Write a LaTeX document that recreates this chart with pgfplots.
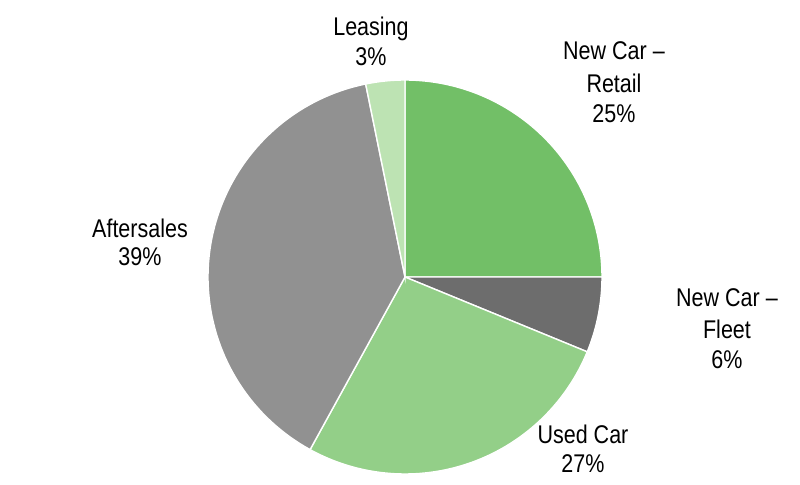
\documentclass[border=0pt]{standalone}
\usepackage{fontspec}
\setmainfont{Liberation Sans}[FakeStretch=0.84]
\usepackage{pgfplots}
\pgfplotsset{compat=1.18}

\definecolor{cRetail}{HTML}{72BF67}
\definecolor{cFleet}{HTML}{6D6D6D}
\definecolor{cUsed}{HTML}{93CF88}
\definecolor{cAfter}{HTML}{919191}
\definecolor{cLease}{HTML}{BDE3B3}

\tikzset{lbl/.style={font=\fontsize{12.8}{15}\selectfont, anchor=base, inner sep=0pt}}

% share in percent, cumulative start/end (clockwise from 12 o'clock)
% Retail 25.0, Fleet 6.2, Used 26.8, Aftersales 38.8, Leasing 3.2
\newcommand{\slice}[3]{%
  \pgfmathsetmacro{\angA}{90-3.6*#2}%
  \pgfmathsetmacro{\angB}{90-3.6*#3}%
  \addplot[draw=white, line width=0.7pt, fill=#1, domain=\angB:\angA, samples=80]
    ({405+197*cos(x)},{207+197*sin(x)}) -- (axis cs:405,207) -- cycle;
}

\begin{document}
\begin{tikzpicture}
\begin{axis}[
  scale only axis, width=400pt, height=242pt,
  xmin=0, xmax=800, ymin=0, ymax=484,
  hide axis, clip=false,
]
\slice{cRetail}{0}{25.0}
\slice{cFleet}{25.0}{31.2}
\slice{cUsed}{31.2}{58.0}
\slice{cAfter}{58.0}{96.8}
\slice{cLease}{96.8}{100}

\node[lbl] at (axis cs:371,449) {Leasing};
\node[lbl] at (axis cs:371,419) {3\%};
\node[lbl] at (axis cs:614,424) {New Car --};
\node[lbl] at (axis cs:614,392) {Retail};
\node[lbl] at (axis cs:614,362) {25\%};
\node[lbl] at (axis cs:727,177) {New Car --};
\node[lbl] at (axis cs:727,146) {Fleet};
\node[lbl] at (axis cs:727,116) {6\%};
\node[lbl] at (axis cs:583,41) {Used Car};
\node[lbl] at (axis cs:583,11) {27\%};
\node[lbl] at (axis cs:140,247) {Aftersales};
\node[lbl] at (axis cs:140,219) {39\%};
\end{axis}
\pgfresetboundingbox
\useasboundingbox (0,0) rectangle (400pt,242pt);
\end{tikzpicture}
\end{document}
